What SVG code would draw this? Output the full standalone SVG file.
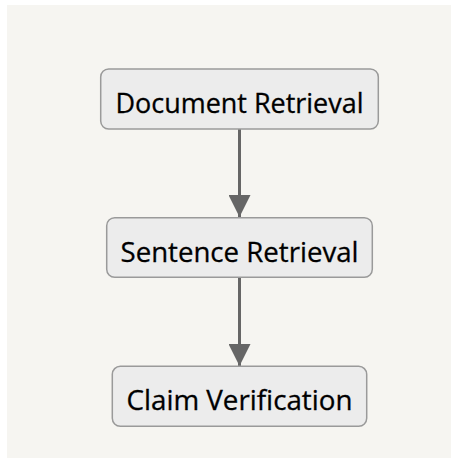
<svg xmlns="http://www.w3.org/2000/svg" width="451" height="459" viewBox="0 0 451 459">
<defs>
<style>
.node rect{fill:#ececec;stroke:#9a9a9a;stroke-width:1.5}
.node text{font-family:"Open Sans","DejaVu Sans",sans-serif;font-size:28px;fill:#000;stroke:#000;stroke-width:0.3;text-anchor:middle}
.edge{stroke:#666;stroke-width:3;fill:none}
</style>
<marker id="arr" viewBox="0 0 10 10" refX="10" refY="5" markerUnits="userSpaceOnUse" markerWidth="22" markerHeight="22" orient="auto">
<path d="M0,0 L10,5 L0,10 z" fill="#666"/>
</marker>
</defs>
<rect width="451" height="459" fill="#fff"/>
<rect x="7" y="5" width="444" height="453" fill="#f6f5f1"/>
<g id="edges">
<line class="edge" x1="239.5" y1="129" x2="239.5" y2="217" marker-end="url(#arr)"/>
<line class="edge" x1="239.5" y1="277.5" x2="239.5" y2="366" marker-end="url(#arr)"/>
</g>
<g id="doc" class="node">
<rect x="100.7" y="69" width="277.6" height="60" rx="8"/>
<text x="239.5" y="113.3" textLength="248" lengthAdjust="spacingAndGlyphs">Document Retrieval</text>
</g>
<g id="sent" class="node">
<rect x="106.7" y="217.7" width="265.6" height="59.6" rx="8"/>
<text x="239.5" y="262" textLength="238" lengthAdjust="spacingAndGlyphs">Sentence Retrieval</text>
</g>
<g id="claim" class="node">
<rect x="112.3" y="366.3" width="254.4" height="60" rx="8"/>
<text x="239.5" y="410.3" textLength="226" lengthAdjust="spacingAndGlyphs">Claim Verification</text>
</g>
</svg>
